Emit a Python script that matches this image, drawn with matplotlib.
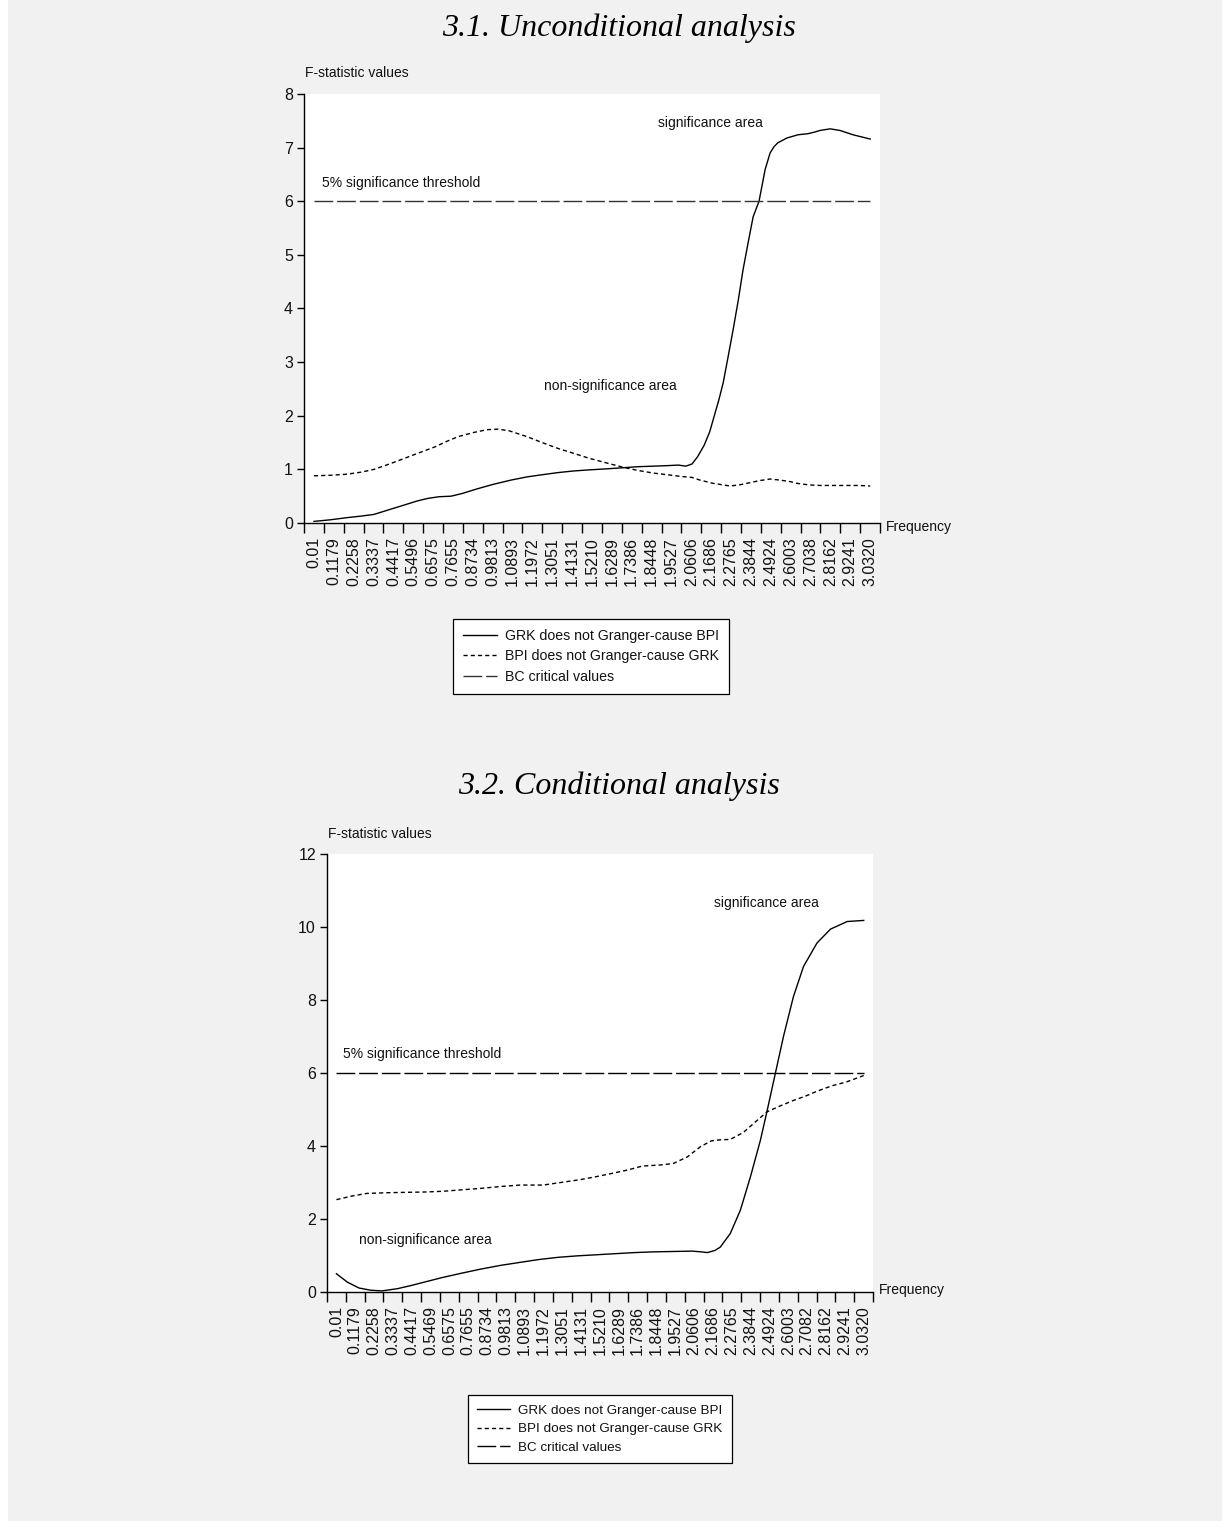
import matplotlib

matplotlib.use("Agg")

import matplotlib.pyplot as plt
from matplotlib.patches import Rectangle


W, H = 1229, 1533
DPI = 100

BG = "#f1f1f1"
INK = "#000000"
SANS = ["Liberation Sans", "DejaVu Sans"]
SERIF = ["Liberation Serif", "DejaVu Serif"]

STEP = 0.1079
FIRST_FREQ = 0.01

# tick labels as printed under each panel
LABELS_A = ["0.01", "0.1179", "0.2258", "0.3337", "0.4417", "0.5496", "0.6575", "0.7655",
            "0.8734", "0.9813", "1.0893", "1.1972", "1.3051", "1.4131", "1.5210", "1.6289",
            "1.7386", "1.8448", "1.9527", "2.0606", "2.1686", "2.2765", "2.3844", "2.4924",
            "2.6003", "2.7038", "2.8162", "2.9241", "3.0320"]
LABELS_B = ["0.01", "0.1179", "0.2258", "0.3337", "0.4417", "0.5469", "0.6575", "0.7655",
            "0.8734", "0.9813", "1.0893", "1.1972", "1.3051", "1.4131", "1.5210", "1.6289",
            "1.7386", "1.8448", "1.9527", "2.0606", "2.1686", "2.2765", "2.3844", "2.4924",
            "2.6003", "2.7082", "2.8162", "2.9241", "3.0320"]

BC_CRITICAL = 6.0

# 3.1 unconditional
A_GRK_FREQ = [0.01, 0.10, 0.19, 0.27, 0.336, 0.42, 0.505, 0.57, 0.63, 0.69, 0.755, 0.815, 0.90,
              0.983, 1.08, 1.168, 1.25, 1.336, 1.42, 1.502, 1.60, 1.689, 1.77, 1.856, 1.93, 1.99,
              2.03, 2.064, 2.095, 2.13, 2.16, 2.185, 2.21, 2.233, 2.26, 2.287, 2.315, 2.341, 2.37,
              2.396, 2.428, 2.461, 2.488, 2.51, 2.53, 2.58, 2.64, 2.694, 2.73, 2.759, 2.814, 2.868,
              2.938, 3.032]
A_GRK_VAL = [0.03, 0.06, 0.10, 0.13, 0.16, 0.25, 0.34, 0.41, 0.46, 0.49, 0.50, 0.55, 0.64,
             0.72, 0.80, 0.86, 0.90, 0.94, 0.97, 0.99, 1.01, 1.03, 1.05, 1.06, 1.07, 1.08,
             1.06, 1.10, 1.24, 1.45, 1.70, 2.00, 2.30, 2.61, 3.10, 3.60, 4.15, 4.72, 5.25,
             5.71, 6.00, 6.59, 6.90, 7.02, 7.09, 7.18, 7.24, 7.26, 7.29, 7.32, 7.35, 7.32,
             7.24, 7.16]
A_BPI_FREQ = [0.01, 0.10, 0.19, 0.27, 0.336, 0.42, 0.505, 0.59, 0.668, 0.73, 0.793, 0.88, 0.95,
              1.01, 1.07, 1.168, 1.25, 1.336, 1.42, 1.502, 1.60, 1.689, 1.77, 1.856, 1.93, 2.0,
              2.064, 2.107, 2.178, 2.27, 2.32, 2.363, 2.43, 2.488, 2.542, 2.60, 2.634, 2.70,
              2.759, 2.83, 2.906, 2.97, 3.032]
A_BPI_VAL = [0.88, 0.89, 0.91, 0.95, 1.00, 1.10, 1.21, 1.32, 1.42, 1.52, 1.61, 1.69, 1.74,
             1.75, 1.72, 1.61, 1.50, 1.39, 1.30, 1.21, 1.12, 1.04, 0.98, 0.93, 0.90, 0.87,
             0.85, 0.80, 0.74, 0.69, 0.71, 0.74, 0.79, 0.82, 0.80, 0.77, 0.74, 0.71,
             0.70, 0.70, 0.70, 0.70, 0.69]

# 3.2 conditional
B_GRK_FREQ = [0.01, 0.073, 0.139, 0.205, 0.27, 0.359, 0.44, 0.513, 0.62, 0.732, 0.84, 0.951,
              1.06, 1.171, 1.28, 1.39, 1.50, 1.608, 1.72, 1.828, 1.94, 2.049, 2.10, 2.136, 2.18,
              2.21, 2.267, 2.325, 2.383, 2.44, 2.479, 2.526, 2.572, 2.629, 2.687, 2.764, 2.841,
              2.937, 3.032]
B_GRK_VAL = [0.50, 0.27, 0.11, 0.05, 0.03, 0.09, 0.18, 0.27, 0.40, 0.52, 0.63, 0.73,
             0.81, 0.89, 0.95, 0.99, 1.02, 1.05, 1.08, 1.10, 1.11, 1.12, 1.10, 1.08, 1.14,
             1.23, 1.60, 2.24, 3.16, 4.16, 4.98, 6.00, 7.00, 8.09, 8.92, 9.56, 9.94,
             10.15, 10.18]
B_BPI_FREQ = [0.01, 0.10, 0.183, 0.30, 0.404, 0.52, 0.622, 0.73, 0.84, 0.95, 1.063, 1.195,
              1.324, 1.41, 1.499, 1.59, 1.677, 1.763, 1.866, 1.94, 2.021, 2.096, 2.158, 2.21,
              2.267, 2.342, 2.423, 2.479, 2.554, 2.63, 2.70, 2.764, 2.85, 2.93, 3.032]
B_BPI_VAL = [2.53, 2.63, 2.70, 2.72, 2.73, 2.74, 2.76, 2.80, 2.84, 2.89, 2.93, 2.93,
             3.02, 3.08, 3.16, 3.25, 3.34, 3.45, 3.48, 3.52, 3.70, 3.98, 4.14, 4.17,
             4.18, 4.37, 4.71, 4.94, 5.10, 5.25, 5.37, 5.50, 5.65, 5.75, 5.93]

SERIES_NAMES = ["GRK does not Granger-cause BPI",
                "BPI does not Granger-cause GRK",
                "BC critical values"]


def fx(px):
    return px / W


def fy(py):
    return 1 - py / H


def ftext(fig, x, y, text, *, ha="left", va="center", size=10, **kw):
    fig.text(fx(x), fy(y), text, ha=ha, va=va, fontsize=size, family=SANS, color="#111111", **kw)


def draw_panel(fig, box, labels, ymax, ystep, grk, bpi, threshold_color):
    left, top, right, bottom = box
    ax = fig.add_axes([fx(left), fy(bottom), fx(right - left), (bottom - top) / H])
    ax.set_facecolor("white")

    centers = [FIRST_FREQ + i * STEP for i in range(len(labels))]
    edges = [c - STEP / 2 for c in centers] + [centers[-1] + STEP / 2]

    ax.plot(grk[0], grk[1], color=INK, lw=1.0, label=SERIES_NAMES[0])
    ax.plot(bpi[0], bpi[1], color=INK, lw=1.0, linestyle=(0, (3.0, 2.2)), label=SERIES_NAMES[1])
    ax.plot(centers, [BC_CRITICAL] * len(centers), color=threshold_color, lw=1.0,
            linestyle=(0, (13.5, 2.8)), label=SERIES_NAMES[2])

    ax.set_xlim(edges[0], edges[-1])
    ax.set_ylim(0, ymax)
    ax.set_yticks(list(range(0, ymax + 1, ystep)))

    ax.set_xticks(edges)
    ax.set_xticklabels([])
    ax.set_xticks(centers, minor=True)
    ax.set_xticklabels(labels, minor=True, rotation=90, fontsize=11.5, family=SANS, color="#111111")
    ax.tick_params(axis="x", which="major", direction="out", length=7, width=1.0, color=INK)
    ax.tick_params(axis="x", which="minor", length=0, pad=10)
    ax.tick_params(axis="y", direction="out", length=5, width=1.0, color=INK, pad=3,
                   labelsize=11.5, labelcolor="#111111")
    for t in ax.get_yticklabels():
        t.set_family(SANS)

    for side in ("top", "right"):
        ax.spines[side].set_visible(False)
    for side in ("left", "bottom"):
        ax.spines[side].set_linewidth(1.0)
        ax.spines[side].set_color(INK)
    return ax


def add_legend(fig, ax, x, y, size):
    leg = ax.legend(loc="upper left", bbox_to_anchor=(fx(x), fy(y)), bbox_transform=fig.transFigure,
                    frameon=True, fancybox=False, edgecolor=INK, facecolor="white", framealpha=1,
                    prop={"family": SANS, "size": size}, handlelength=2.4, handletextpad=0.6,
                    labelspacing=0.45, borderpad=0.7, borderaxespad=0)
    leg.get_frame().set_linewidth(0.9)
    for t in leg.get_texts():
        t.set_color("#111111")


def main():
    plt.rcParams.update({"lines.scale_dashes": False, "axes.unicode_minus": False})

    fig = plt.figure(figsize=(W / DPI, H / DPI), dpi=DPI)
    fig.patch.set_facecolor("white")
    fig.add_artist(Rectangle((fx(8), fy(1521)), fx(1214), 1521 / H, transform=fig.transFigure,
                             facecolor=BG, edgecolor="none", zorder=-10))

    # 3.1 unconditional analysis
    fig.text(fx(619), fy(28), "3.1. Unconditional analysis", ha="center", va="center",
             fontsize=23, style="italic", family=SERIF)
    ax1 = draw_panel(fig, (304, 94, 880, 523), LABELS_A, 8, 1,
                     (A_GRK_FREQ, A_GRK_VAL), (A_BPI_FREQ, A_BPI_VAL), "#333333")
    ftext(fig, 305, 73, "F-statistic values")
    ftext(fig, 886, 527, "Frequency")
    ftext(fig, 710, 123, "significance area", ha="center")
    ftext(fig, 322, 183, "5% significance threshold")
    ftext(fig, 610, 386, "non-significance area", ha="center")
    add_legend(fig, ax1, 453, 619, 10.2)

    # 3.2 conditional analysis
    fig.text(fx(619), fy(786), "3.2. Conditional analysis", ha="center", va="center",
             fontsize=23, style="italic", family=SERIF)
    ax2 = draw_panel(fig, (327, 854, 873, 1292), LABELS_B, 12, 2,
                     (B_GRK_FREQ, B_GRK_VAL), (B_BPI_FREQ, B_BPI_VAL), INK)
    ftext(fig, 328, 834, "F-statistic values")
    ftext(fig, 879, 1290, "Frequency")
    ftext(fig, 766, 903, "significance area", ha="center")
    ftext(fig, 343, 1054, "5% significance threshold")
    ftext(fig, 425, 1240, "non-significance area", ha="center")
    add_legend(fig, ax2, 468, 1395, 9.7)

    fig.savefig("out.png", dpi=DPI, facecolor="white")
    plt.close(fig)


if __name__ == "__main__":
    main()
